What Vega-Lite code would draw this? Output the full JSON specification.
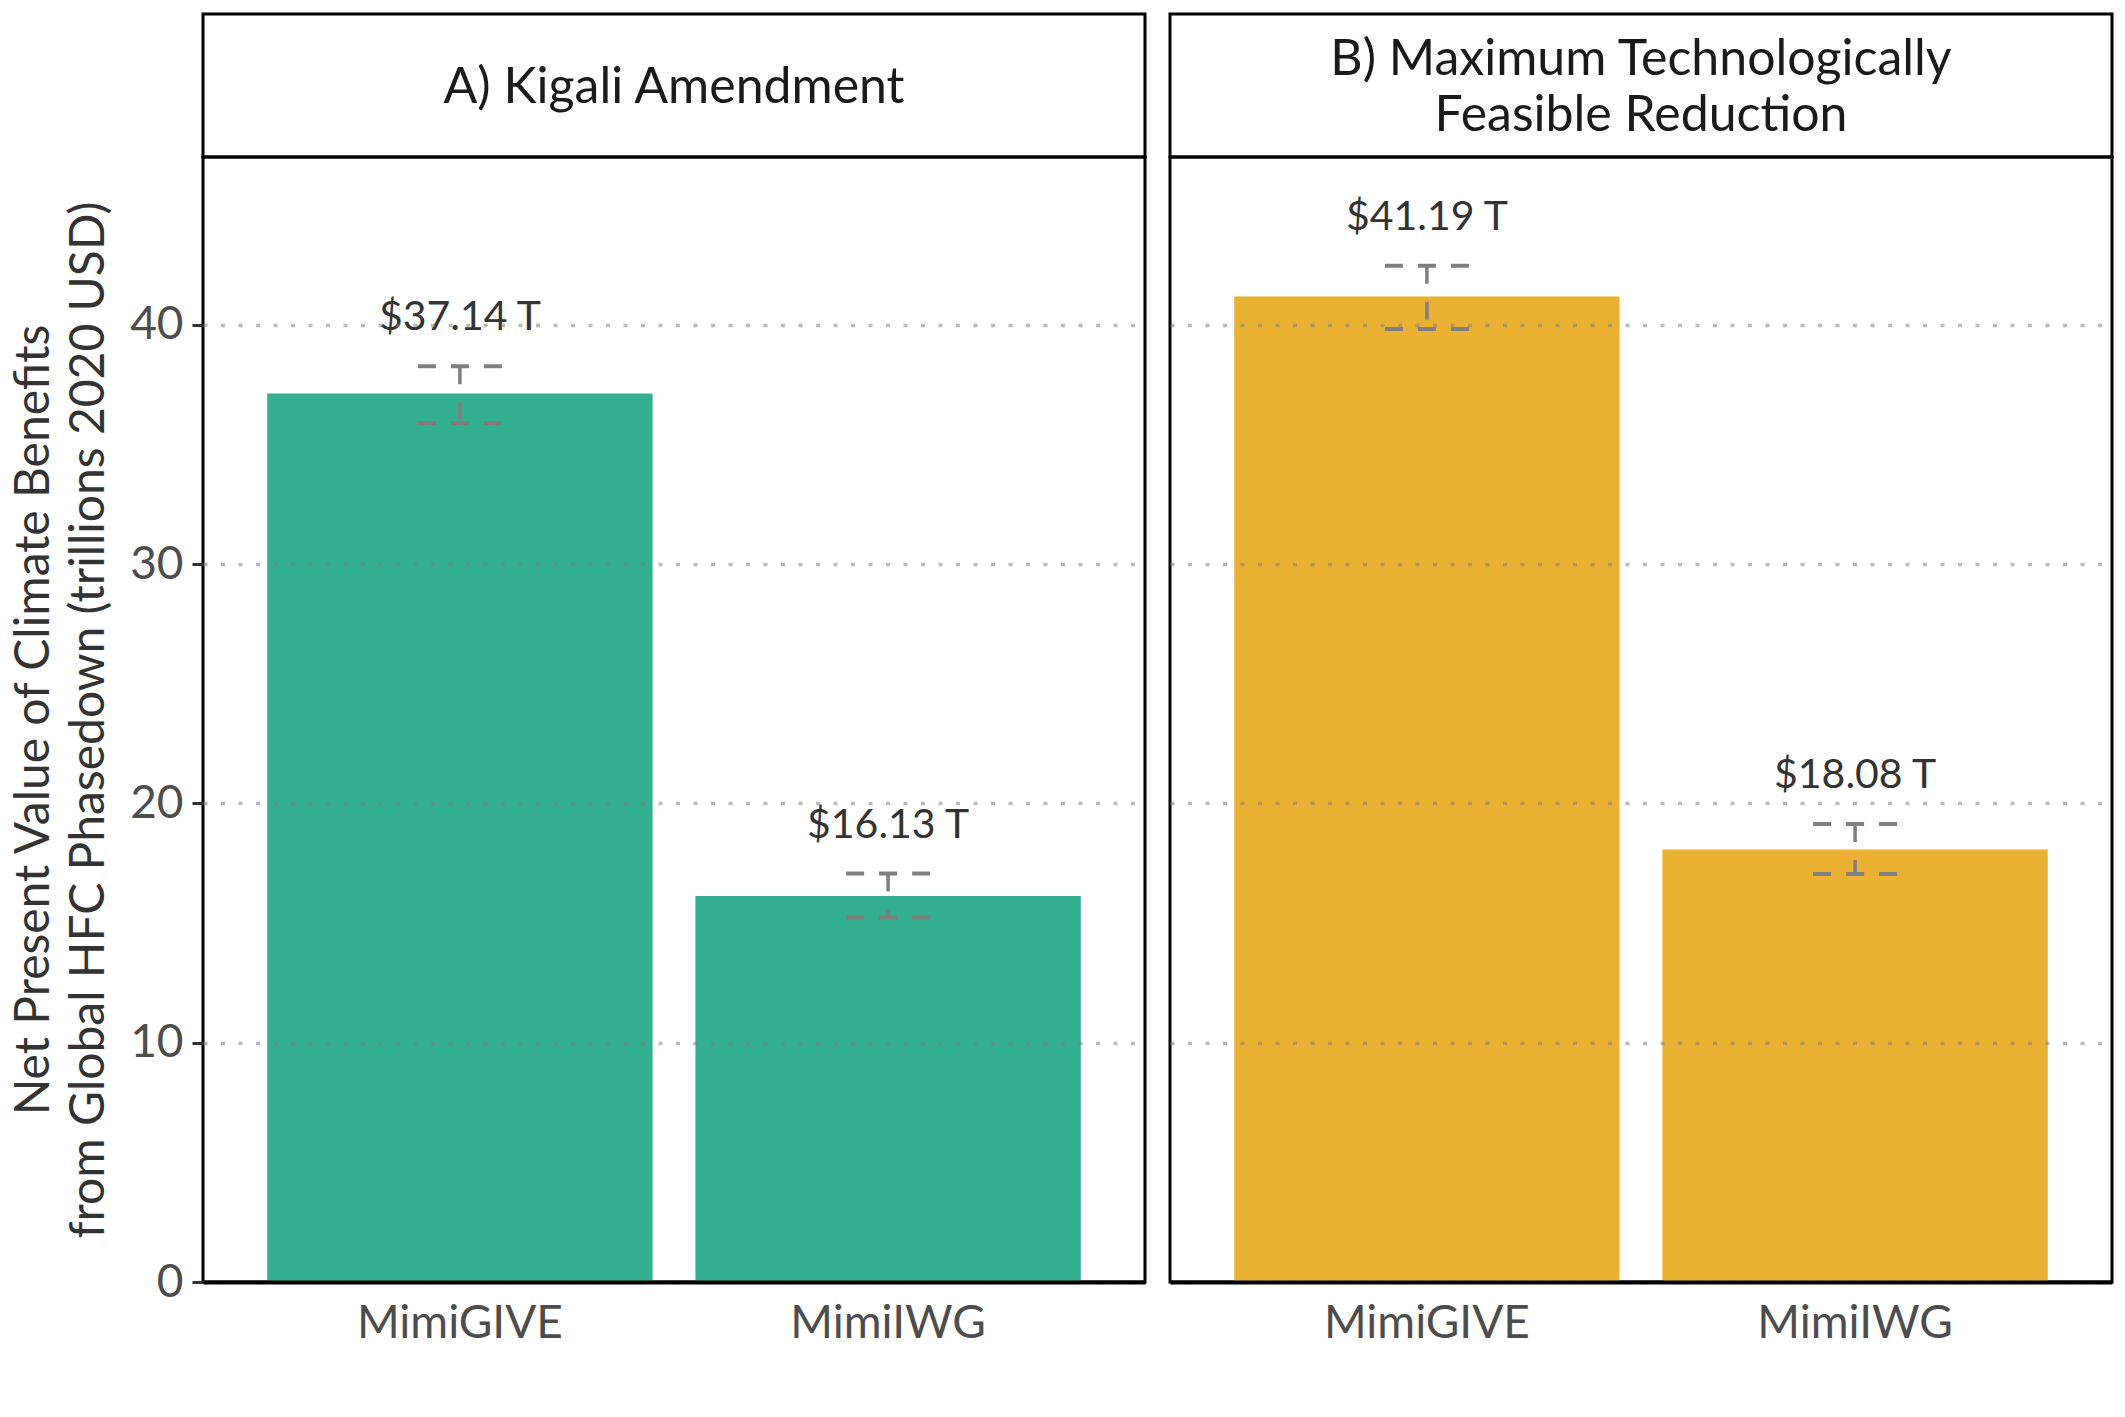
{
  "$schema": "https://vega.github.io/schema/vega-lite/v6.json",
  "background": "white",
  "padding": {"left": 9, "top": 12, "right": 13, "bottom": 10},
  "config": {
    "font": "Lato",
    "view": {"stroke": "black", "strokeWidth": 3},
    "axis": {"labelFont": "Lato", "titleFont": "Lato"}
  },
  "datasets": {
    "bars": [
      {"panel": "A", "model": "MimiGIVE", "value": 37.14, "lo": 35.9, "hi": 38.27, "label": "$37.14 T"},
      {"panel": "A", "model": "MimiIWG", "value": 16.13, "lo": 15.23, "hi": 17.07, "label": "$16.13 T"},
      {"panel": "B", "model": "MimiGIVE", "value": 41.19, "lo": 39.83, "hi": 42.47, "label": "$41.19 T"},
      {"panel": "B", "model": "MimiIWG", "value": 18.08, "lo": 17.05, "hi": 19.14, "label": "$18.08 T"}
    ],
    "strips": [
      {"panel": "A", "title": "A) Kigali Amendment"},
      {"panel": "B", "title": "B) Maximum Technologically\nFeasible Reduction"}
    ]
  },
  "columns": 2,
  "spacing": {"row": 0, "column": 25},
  "bounds": "flush",
  "concat": [
    {
      "width": 942, "height": 143,
      "data": {"name": "strips"},
      "transform": [{"filter": "datum.panel === 'A'"}],
      "mark": {"type": "text", "fontSize": 50, "color": "#1a1a1a", "baseline": "middle", "align": "center", "lineBreak": "\n", "lineHeight": 56, "dy": 2},
      "encoding": {
        "x": {"field": "panel", "type": "nominal", "axis": null},
        "text": {"field": "title", "type": "nominal"}
      }
    },
    {
      "width": 942, "height": 143,
      "data": {"name": "strips"},
      "transform": [{"filter": "datum.panel === 'B'"}],
      "mark": {"type": "text", "fontSize": 50, "color": "#1a1a1a", "baseline": "middle", "align": "center", "lineBreak": "\n", "lineHeight": 56, "dy": -26},
      "encoding": {
        "x": {"field": "panel", "type": "nominal", "axis": null},
        "text": {"field": "title", "type": "nominal"}
      }
    },
    {
      "width": 942, "height": 1125,
      "data": {"name": "bars"},
      "transform": [{"filter": "datum.panel === 'A'"}],
      "encoding": {
        "x": {"field": "model", "type": "nominal", "scale": {"paddingInner": 0.1, "paddingOuter": 0.15},
          "axis": {"title": null, "ticks": false, "labelAngle": 0, "labelLimit": 0, "labelFontSize": 46, "labelColor": "#4d4d4d", "labelPadding": 19, "domainColor": "black", "domainWidth": 4, "zindex": 2}}
      },
      "layer": [
        {
          "mark": {"type": "bar", "color": "#33B08F"},
          "encoding": {
            "y": {"field": "value", "type": "quantitative", "scale": {"domain": [0, 47.02], "nice": false},
              "axis": {"values": [0, 10, 20, 30, 40], "zindex": 1, "grid": true, "gridColor": "#7f7f7f", "gridOpacity": 0.55, "gridWidth": 3.5, "gridDash": [4, 13.5],
                "domain": false, "tickColor": "#333333", "tickWidth": 3, "tickSize": 11, "labelFontSize": 46, "labelColor": "#4d4d4d", "labelPadding": 9,
                "title": ["Net Present Value of Climate Benefits", "from Global HFC Phasedown (trillions 2020 USD)"],
                "titleFontSize": 48, "titleFontWeight": "normal", "titleColor": "#333333", "titleLineHeight": 55, "titlePadding": 16}}
          }
        },
        {
          "mark": {"type": "rule", "color": "#7f7f7f", "strokeWidth": 3.5, "strokeDash": [18, 18]},
          "encoding": {"y": {"field": "hi", "type": "quantitative"}, "y2": {"field": "lo"}}
        },
        {
          "mark": {"type": "rule", "color": "#7f7f7f", "strokeWidth": 4, "strokeDash": [18, 15], "xOffset": -42, "x2Offset": 42},
          "encoding": {"x2": {"field": "model"}, "y": {"field": "hi", "type": "quantitative"}}
        },
        {
          "mark": {"type": "rule", "color": "#7f7f7f", "strokeWidth": 4, "strokeDash": [18, 15], "xOffset": -42, "x2Offset": 42},
          "encoding": {"x2": {"field": "model"}, "y": {"field": "lo", "type": "quantitative"}}
        },
        {
          "mark": {"type": "text", "fontSize": 41, "color": "#333333", "baseline": "middle", "dy": -48},
          "encoding": {"y": {"field": "hi", "type": "quantitative"}, "text": {"field": "label", "type": "nominal"}}
        }
      ]
    },
    {
      "width": 942, "height": 1125,
      "data": {"name": "bars"},
      "transform": [{"filter": "datum.panel === 'B'"}],
      "encoding": {
        "x": {"field": "model", "type": "nominal", "scale": {"paddingInner": 0.1, "paddingOuter": 0.15},
          "axis": {"title": null, "ticks": false, "labelAngle": 0, "labelLimit": 0, "labelFontSize": 46, "labelColor": "#4d4d4d", "labelPadding": 19, "domainColor": "black", "domainWidth": 4, "zindex": 2}}
      },
      "layer": [
        {
          "mark": {"type": "bar", "color": "#EAB133"},
          "encoding": {
            "y": {"field": "value", "type": "quantitative", "scale": {"domain": [0, 47.02], "nice": false},
              "axis": {"values": [0, 10, 20, 30, 40], "zindex": 1, "grid": true, "gridColor": "#7f7f7f", "gridOpacity": 0.55, "gridWidth": 3.5, "gridDash": [4, 13.5],
                "domain": false, "ticks": false, "labels": false, "title": null}}
          }
        },
        {
          "mark": {"type": "rule", "color": "#7f7f7f", "strokeWidth": 3.5, "strokeDash": [18, 18]},
          "encoding": {"y": {"field": "hi", "type": "quantitative"}, "y2": {"field": "lo"}}
        },
        {
          "mark": {"type": "rule", "color": "#7f7f7f", "strokeWidth": 4, "strokeDash": [18, 15], "xOffset": -42, "x2Offset": 42},
          "encoding": {"x2": {"field": "model"}, "y": {"field": "hi", "type": "quantitative"}}
        },
        {
          "mark": {"type": "rule", "color": "#7f7f7f", "strokeWidth": 4, "strokeDash": [18, 15], "xOffset": -42, "x2Offset": 42},
          "encoding": {"x2": {"field": "model"}, "y": {"field": "lo", "type": "quantitative"}}
        },
        {
          "mark": {"type": "text", "fontSize": 41, "color": "#333333", "baseline": "middle", "dy": -48},
          "encoding": {"y": {"field": "hi", "type": "quantitative"}, "text": {"field": "label", "type": "nominal"}}
        }
      ]
    }
  ]
}
